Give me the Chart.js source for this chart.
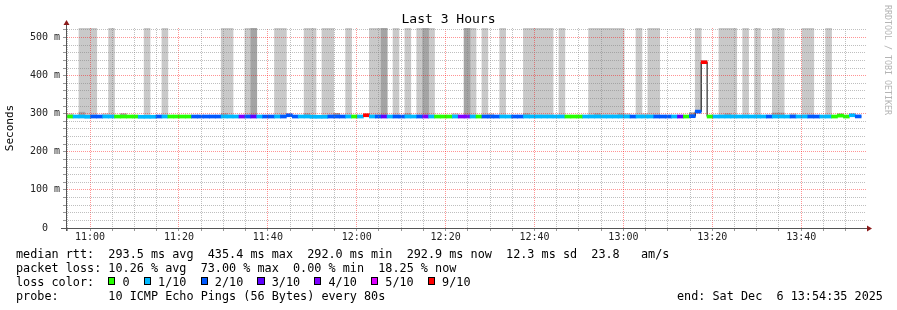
<!DOCTYPE html>
<html lang="en">
<head>
<meta charset="UTF-8">
<title>Last 3 Hours</title>
<script src="https://cdn.jsdelivr.net/npm/chart.js"></script>
<style>
  body { margin: 0; background: #fff; }
  .graph { position: relative; width: 897px; height: 310px; overflow: hidden; background: #fff; }
  #rtt { position: absolute; left: 0; top: 0; }
  .mono { font-family: "DejaVu Sans Mono", monospace; font-size: 11.8px; line-height: 13.9px; color: #000; white-space: pre; }
  .legend { position: absolute; left: 16px; top: 248px; margin: 0; }
  .legend .box { display: inline-block; box-sizing: border-box; width: 1ch; height: 8px; border: 1px solid #000; vertical-align: 1px; }
  .end { position: absolute; left: 677px; top: 289.7px; }
  .credit { position: absolute; left: 883px; top: 5px; writing-mode: vertical-rl; font-family: "DejaVu Sans Mono", monospace; font-size: 8.3px; line-height: 9px; color: #b4b4b4; white-space: pre; }
</style>
</head>
<body>
<div class="graph">
  <canvas id="rtt" width="897" height="310"></canvas>
  <div class="legend mono">median rtt:  293.5 ms avg  435.4 ms max  292.0 ms min  292.9 ms now  12.3 ms sd  23.8   am/s
packet loss: 10.26 % avg  73.00 % max  0.00 % min  18.25 % now
<span id="losscolor">loss color:  </span>
probe:       10 ICMP Echo Pings (56 Bytes) every 80s</div>
  <div class="end mono">end: Sat Dec  6 13:54:35 2025</div>
  <div class="credit">RRDTOOL / TOBI OETIKER</div>
</div>

<script>
    // time axis in minutes since midnight, one RRD step every 80 s
    var START = 10 * 60 + 54 + 35 / 60;   // graph start 10:54:35
    var SPAN = 180;
    var FIRST = 10 * 60 + 54 + 50 / 60;   // first full step 10:54:50
    var STEP = 80 / 60;
    var MONO = '"DejaVu Sans Mono", monospace';

    // median rtt per step (ms)
    var median = [
        292.6, 292.6, 292.6, 292.0, 292.6, 292.6, 292.6, 292.6, 292.6, 292.6,
        292.6, 292.6, 292.0, 292.0, 292.0, 292.6, 292.6, 292.6, 292.6, 292.6,
        292.6, 292.6, 292.6, 292.6, 292.6, 292.6, 292.6, 292.6, 292.6, 292.6,
        292.6, 292.6, 292.6, 292.6, 292.6, 292.6, 292.6, 296.0, 292.6, 292.6,
        292.6, 292.0, 292.0, 292.0, 292.6, 292.6, 292.6, 292.6, 292.6, 292.6,
        296.0, 292.6, 292.6, 292.6, 292.6, 292.6, 292.6, 292.6, 292.6, 292.6,
        292.6, 292.6, 292.6, 292.6, 292.6, 292.6, 292.6, 292.6, 292.6, 292.6,
        292.6, 292.6, 292.6, 292.6, 292.6, 292.6, 292.6, 292.6, 292.6, 292.6,
        292.6, 292.6, 292.6, 292.6, 292.6, 292.6, 292.6, 292.6, 292.6, 292.6,
        292.6, 292.6, 292.6, 292.6, 292.6, 292.6, 292.6, 292.6, 292.6, 292.6,
        292.6, 292.6, 292.6, 292.6, 292.6, 293.5, 305.5, 435.4, 292.6, 292.6,
        292.6, 292.6, 292.6, 292.6, 292.6, 292.6, 292.6, 292.6, 292.6, 292.6,
        292.6, 292.6, 292.6, 292.6, 292.6, 292.6, 292.6, 292.6, 292.6, 292.6,
        295.0, 292.6, 296.0, 292.9
    ];

    // lost pings (of 10) per step
    var loss = [
        0, 1, 1, 1, 2, 2, 1, 1, 0, 0,
        0, 0, 1, 1, 1, 2, 1, 0, 0, 0,
        0, 2, 2, 2, 2, 2, 1, 1, 1, 4,
        2, 3, 1, 2, 2, 1, 2, 2, 2, 1,
        1, 1, 1, 1, 2, 2, 2, 1, 0, 1,
        9, 1, 2, 3, 1, 2, 2, 1, 1, 2,
        4, 1, 0, 0, 0, 1, 4, 4, 1, 0,
        2, 2, 2, 1, 1, 2, 2, 1, 1, 1,
        1, 1, 1, 1, 0, 0, 0, 1, 1, 1,
        1, 1, 1, 1, 1, 2, 1, 1, 1, 2,
        2, 2, 1, 3, 0, 2, 2, 9, 0, 1,
        1, 1, 1, 1, 1, 1, 1, 1, 2, 1,
        1, 1, 2, 1, 1, 2, 2, 1, 1, 0,
        0, 0, 1, 2
    ];

    // top of the outer smoke band per step (ms), null = no smoke
    var n = null;
    var smokeOuter = [
        300, n, 600, 600, 600, n, 300, 600, n, n,
        n, n, n, 600, n, n, 600, n, n, n,
        n, n, n, n, n, n, 600, 600, n, n,
        600, 600, n, n, n, 600, 600, n, n, n,
        600, 600, n, 600, 600, 301, n, 600, n, n,
        n, 600, 600, 600, n, 600, n, 600, n, 600,
        600, 600, n, n, n, 300, n, 600, 600, n,
        600, 300, n, 600, n, n, n, 600, 600, 600,
        600, 600, n, 600, n, n, n, n, 600, 600,
        600, 600, 600, 600, 300, n, 600, 300, 600, 600,
        n, n, n, n, n, 303, 600, n, n, n,
        600, 600, 600, n, 600, n, 600, n, n, 600,
        600, n, 300, n, 600, 600, n, n, 600, n,
        300, n, n, n
    ];

    // top of the denser inner smoke band per step (ms)
    var smokeInner = [
        n, n, 304, n, n, n, n, n, n, 300,
        n, n, n, n, n, n, n, n, n, n,
        n, n, n, n, n, n, 300, n, n, n,
        n, 600, n, n, n, n, n, n, n, n,
        300, n, n, n, n, 301, n, n, n, n,
        n, n, n, 600, n, n, n, 300, n, n,
        600, n, n, n, n, n, n, 600, n, n,
        n, n, n, n, n, n, n, 300, n, n,
        n, n, n, n, n, n, n, n, n, 300,
        n, n, n, 300, n, n, n, n, n, n,
        n, n, n, n, n, 302, n, n, n, n,
        n, 300, n, n, n, n, n, n, n, 302,
        302, n, n, n, n, n, n, n, n, n,
        n, n, n, n
    ];

    var lossLevels = [0, 1, 2, 3, 4, 5, 9];
    var lossColors = ['#26ff00', '#00b8ff', '#0059ff', '#5e00ff', '#7e00ff', '#dd00ff', '#ff0000'];

    function colorFor(count) {
        var c = lossColors[0];
        lossLevels.forEach(function(l, k) { if (count >= l) c = lossColors[k]; });
        return c;
    }
    function mid(i) { return FIRST + (i + 0.5) * STEP; }
    function pad(v) { return String(v).padStart(2, '0'); }
    function hhmm(v) { return pad(Math.floor(v / 60)) + ':' + pad(v % 60); }

    function smokeBars(tops) {
        var out = [];
        tops.forEach(function(t, i) {
            if (t !== null) out.push({x: mid(i), y: [median[i], t]});
        });
        return out;
    }

    var medianBars = median.map(function(m, i) { return {x: mid(i), y: [m - 4, m + 4]}; });
    var medianLine = median.map(function(m, i) { return {x: FIRST + i * STEP, y: m}; });
    medianLine.push({x: FIRST + median.length * STEP, y: median[median.length - 1]});

    // loss colour legend
    var lc = document.getElementById('losscolor');
    lossLevels.forEach(function(l, k) {
        var b = document.createElement('span');
        b.className = 'box';
        b.style.background = lossColors[k];
        lc.appendChild(b);
        lc.appendChild(document.createTextNode(' ' + (l === 0 ? '0' : l + '/10') + (k < lossLevels.length - 1 ? '  ' : '')));
    });

    // dotted grid: 2x2 checker pattern so every 1px line gets every other pixel
    var canvas = document.getElementById('rtt');
    function dots(color) {
        var p = document.createElement('canvas');
        p.width = 2; p.height = 2;
        var g = p.getContext('2d');
        g.fillStyle = color;
        g.fillRect(0, 0, 1, 1);
        g.fillRect(1, 1, 1, 1);
        return canvas.getContext('2d').createPattern(p, 'repeat');
    }
    var MINOR = dots('rgba(128,128,128,0.5)');
    var MAJOR = dots('rgba(255,0,0,0.42)');

    // rrdtool style axes with arrow heads
    var axisArrows = {
        id: 'axisArrows',
        afterDraw: function(chart) {
            var ctx = chart.ctx, a = chart.chartArea;
            var y0 = Math.round(a.bottom) + 0.5, x0 = Math.round(a.left) + 0.5;
            ctx.save();
            ctx.strokeStyle = '#555';
            ctx.lineWidth = 1;
            ctx.beginPath();
            ctx.moveTo(a.left - 5, y0); ctx.lineTo(a.right + 2, y0);
            ctx.moveTo(x0, a.bottom + 3); ctx.lineTo(x0, a.top - 4);
            ctx.stroke();
            ctx.fillStyle = '#8b1a1a';
            ctx.beginPath();
            ctx.moveTo(a.right + 6, y0); ctx.lineTo(a.right + 1, y0 - 3); ctx.lineTo(a.right + 1, y0 + 3);
            ctx.fill();
            ctx.beginPath();
            ctx.moveTo(x0, a.top - 8); ctx.lineTo(x0 - 3, a.top - 3); ctx.lineTo(x0 + 3, a.top - 3);
            ctx.fill();
            ctx.restore();
        }
    };

    var bar = {grouped: false, barPercentage: 1, categoryPercentage: 1, borderWidth: 0};

    new Chart(canvas, {
        type: 'bar',
        data: {
            datasets: [
                Object.assign({label: 'median', data: medianBars, backgroundColor: loss.map(colorFor), order: 0}, bar),
                {type: 'line', label: 'median rtt', data: medianLine, stepped: true, borderColor: '#000',
                 borderWidth: 1, pointRadius: 0, fill: false, order: 1},
                Object.assign({label: 'smoke inner', data: smokeBars(smokeInner), backgroundColor: '#a4a4a4', order: 2}, bar),
                Object.assign({label: 'smoke', data: smokeBars(smokeOuter), backgroundColor: '#c9c9c9', order: 3}, bar)
            ]
        },
        options: {
            responsive: false,
            animation: false,
            events: [],
            layout: {padding: 0},
            plugins: {
                legend: {display: false},
                tooltip: {enabled: false},
                title: {
                    display: true,
                    text: 'Last 3 Hours',
                    color: '#000',
                    font: {family: MONO, size: 13, weight: 'normal', lineHeight: 1.2},
                    padding: {top: 12, bottom: 0.4}
                }
            },
            scales: {
                x: {
                    type: 'linear',
                    min: START,
                    max: START + SPAN,
                    bounds: 'data',
                    offset: false,
                    grid: {
                        offset: false, z: 1, tickLength: 3, tickColor: '#999',
                        color: function(c) { return c.tick && c.tick.value % 20 === 0 ? MAJOR : MINOR; }
                    },
                    border: {display: false},
                    ticks: {
                        autoSkip: false, maxRotation: 0, padding: 0, color: '#222',
                        font: {family: MONO, size: 10},
                        callback: function(v) { return v % 20 === 0 ? hhmm(v) : ''; }
                    },
                    afterBuildTicks: function(s) {
                        var t = [];
                        for (var v = Math.ceil(START / 5) * 5; v <= START + SPAN; v += 5) t.push({value: v});
                        s.ticks = t;
                    },
                    afterFit: function(s) { s.height = 82; }
                },
                y: {
                    type: 'linear',
                    min: 0,
                    max: 525,
                    bounds: 'data',
                    grid: {
                        z: 1, tickLength: 3, tickColor: '#999',
                        color: function(c) { return c.tick && c.tick.value % 100 === 0 ? MAJOR : MINOR; }
                    },
                    border: {display: false},
                    ticks: {
                        autoSkip: false, padding: 3, color: '#222',
                        font: {family: MONO, size: 10},
                        callback: function(v) { return v % 100 === 0 ? (v === 0 ? '0  ' : v + ' m') : ''; }
                    },
                    title: {
                        display: true, text: 'Seconds', color: '#000',
                        font: {family: MONO, size: 11}, padding: {top: 4, bottom: 0}
                    },
                    afterBuildTicks: function(s) {
                        var t = [];
                        for (var v = 0; v <= 520; v += 20) t.push({value: v});
                        s.ticks = t;
                    },
                    afterFit: function(s) { s.width = 66; }
                },
                right: {
                    type: 'linear',
                    position: 'right',
                    grid: {display: false},
                    ticks: {display: false},
                    border: {display: false},
                    afterFit: function(s) { s.width = 31; }
                }
            }
        },
        plugins: [axisArrows]
    });
</script>
</body>
</html>
